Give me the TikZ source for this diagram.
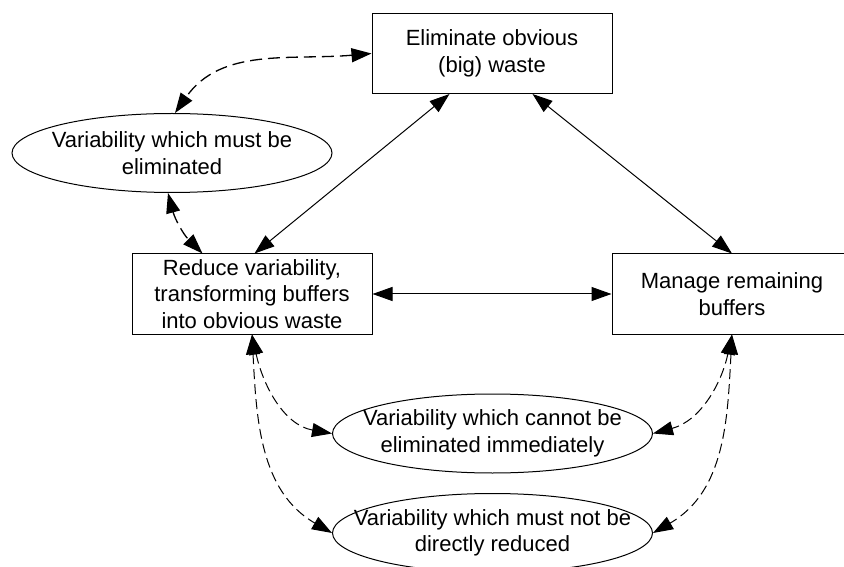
\documentclass[tikz,border=0pt]{standalone}
\usepackage{fontspec}
\setmainfont{Liberation Sans}
\usetikzlibrary{arrows.meta,shapes.geometric,calc}
\begin{document}
\begin{tikzpicture}[x=1pt,y=1pt,
  lbl/.style={font=\fontsize{22}{26.5}\selectfont, align=center, inner sep=0pt},
  box/.style={draw, line width=1pt, fill=white, minimum width=240pt, minimum height=80pt, inner sep=0pt, lbl},
  ell/.style={draw, ellipse, line width=1pt, fill=white, minimum width=320pt, minimum height=79pt, inner sep=0pt},
  link/.style={line width=1pt, {Triangle[length=20pt,width=14pt]}-{Triangle[length=20pt,width=14pt]}},
  dlink/.style={link, dash pattern=on 10pt off 5pt}
]
\clip (0,0) rectangle (844,566);
\fill[white] (0,0) rectangle (844,566);

\node[box] (top) at (492,512.5) {Eliminate obvious\\(big) waste};
\node[box] (reduce) at (252,272) {Reduce variability,\\transforming buffers\\into obvious waste};
\node[box] (manage) at (732,272) {Manage remaining\\buffers};

\node[ell, label={[lbl]center:Variability which must be\\eliminated}] (e1) at (172,413) {};
\node[ell, label={[lbl]center:Variability which cannot be\\eliminated immediately}] (e2) at (492.5,132.5) {};
\node[ell, label={[lbl]center:Variability which must not be\\directly reduced}] (e3) at (492.5,33) {};

\coordinate (topA) at ($(top.south west)+(78,0)$);
\coordinate (topB) at ($(top.south west)+(161,0)$);
\coordinate (redA) at ($(reduce.north west)+(71,0)$);
\coordinate (redB) at ($(reduce.north west)+(123,0)$);

\draw[link] (topA) -- (redB);
\draw[link] (topB) -- (manage.north);
\draw[link] (reduce.east) -- (manage.west);

\draw[dlink, line width=1.3pt, dash pattern=on 12pt off 6pt] (top.west) to[out=185,in=55] ($(e1.north)+(3,0)$);
\draw[dlink, line width=1.3pt, dash pattern=on 12pt off 6pt] ($(e1.south)+(-4,0)$) to[out=-75,in=135] (redA);
\draw[dlink] (reduce.south) to[out=-78,in=170] (e2.west);
\draw[dlink] (reduce.south) to[out=-87,in=150] (e3.west);
\draw[dlink] (manage.south) to[out=-102,in=15] (e2.east);
\draw[dlink] (manage.south) to[out=-93,in=30] (e3.east);
\end{tikzpicture}
\end{document}
